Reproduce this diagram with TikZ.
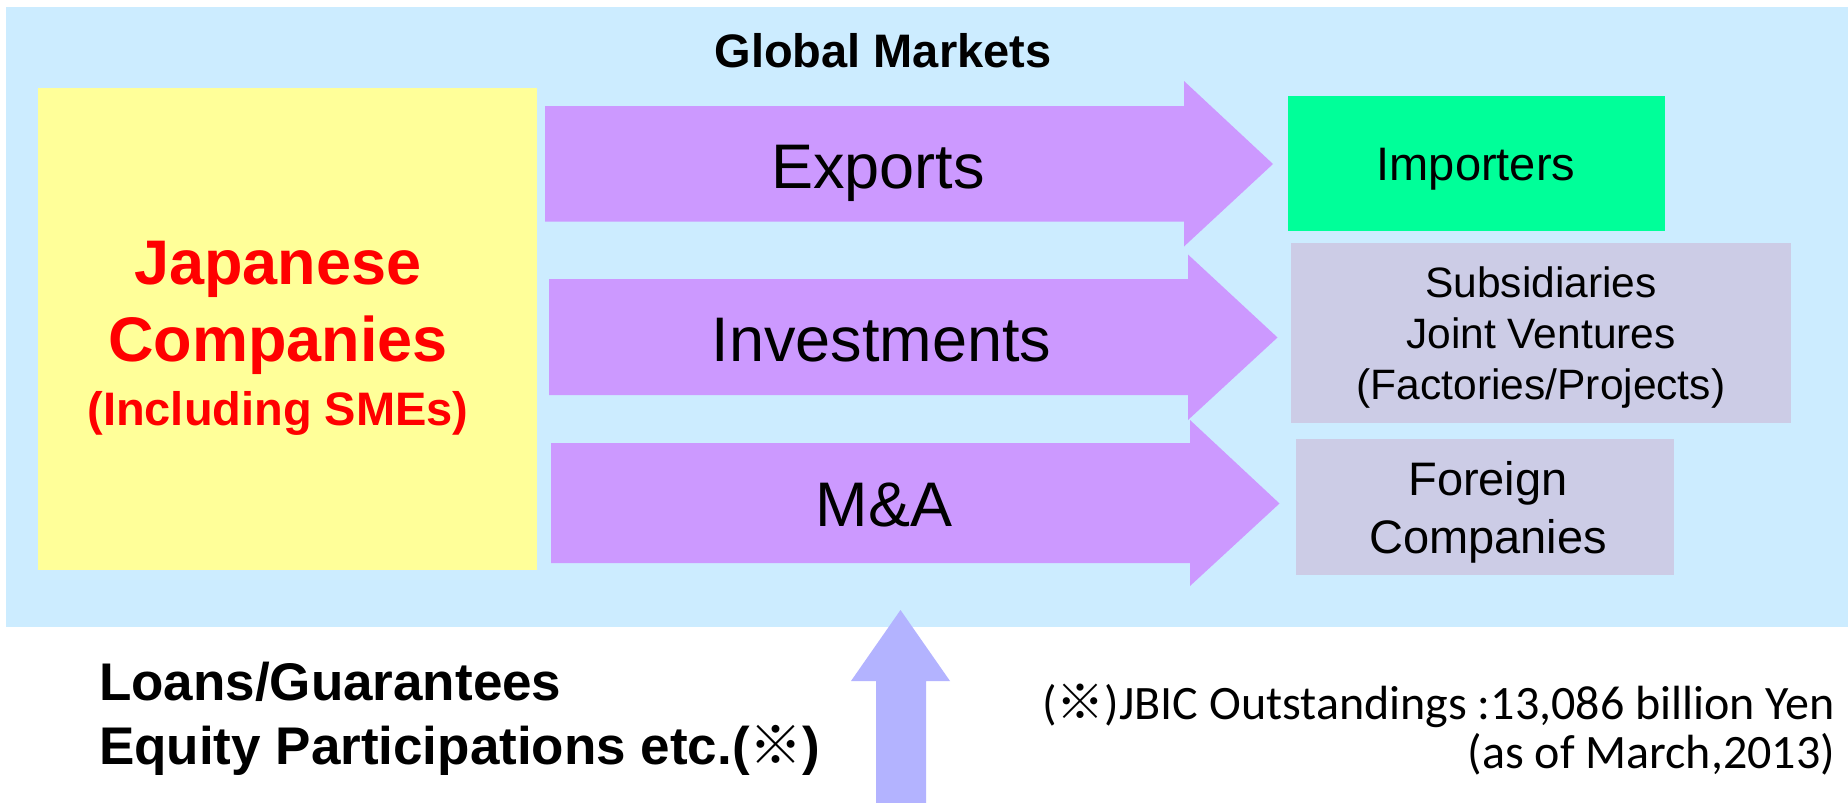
\documentclass[tikz,border=0pt]{standalone}
\usepackage{fontspec}
\setmainfont{Liberation Sans}
\newfontfamily\calfont{Carlito}
\newfontfamily\jpfont{Noto Sans CJK JP}
\newcommand{\refmark}{{\jpfont ※}}
\definecolor{bgblue}{HTML}{CCECFF}
\definecolor{boxyellow}{HTML}{FFFF99}
\definecolor{arrowpurple}{HTML}{CC99FF}
\definecolor{impgreen}{HTML}{00FF99}
\definecolor{boxgray}{HTML}{CCCCE6}
\definecolor{uparrow}{HTML}{B3B3FF}
\begin{document}
\begin{tikzpicture}[x=1pt,y=-1pt,
  txt/.style={inner sep=0pt,outer sep=0pt,anchor=base},
  bigarrow/.style={fill=arrowpurple,draw=none},
  boxfill/.style={draw=none,inner sep=0pt,outer sep=0pt}]
\useasboundingbox (0,0) rectangle (1848,803);
\fill[white] (0,0) rectangle (1848,803);
% background region
\fill[bgblue] (6,7) rectangle (1848,627);
\node[txt,font=\bfseries\fontsize{47}{50}\selectfont] (gm) at (883,67.5) {Global Markets};
% left box
\node[boxfill,fill=boxyellow,minimum width=499pt,minimum height=482pt] (jc) at (287.5,329) {};
\node[txt,align=center,text=red,font=\bfseries\fontsize{63}{77}\selectfont] (jct) at (278,425)
  {Japanese\\Companies\\[-13pt]{\fontsize{47}{50}\selectfont(Including SMEs)}};
% block arrows
\fill[bigarrow] (545,106) -- (1184,106) -- (1184,81) -- (1273,164) -- (1184,246.5) -- (1184,221.5) -- (545,221.5) -- cycle;
\fill[bigarrow] (549,279) -- (1188,279) -- (1188,254.5) -- (1277.5,337.5) -- (1188,420) -- (1188,395) -- (549,395) -- cycle;
\fill[bigarrow] (551,443) -- (1190,443) -- (1190,420) -- (1279.5,503.5) -- (1190,586) -- (1190,563) -- (551,563) -- cycle;
\node[txt,font=\fontsize{63}{70}\selectfont] (ex) at (878,188.5) {Exports};
\node[txt,font=\fontsize{63}{70}\selectfont] (inv) at (881.5,361.8) {Investments};
\node[txt,font=\fontsize{63}{70}\selectfont] (ma) at (884,526) {M\&A};
% right boxes
\node[boxfill,fill=impgreen,minimum width=377pt,minimum height=135pt] (imp) at (1476.5,163.3) {};
\node[txt,font=\fontsize{47}{50}\selectfont] (impt) at (1476,180) {Importers};
\node[boxfill,fill=boxgray,minimum width=500.5pt,minimum height=180pt] (sub) at (1540.75,333) {};
\node[txt,align=center,font=\fontsize{42.5}{51}\selectfont] (subt) at (1541,399)
  {Subsidiaries\\Joint Ventures\\(Factories/Projects)};
\node[boxfill,fill=boxgray,minimum width=377.5pt,minimum height=135.5pt] (fc) at (1484.75,506.75) {};
\node[txt,align=center,font=\fontsize{47}{57.5}\selectfont] (fct) at (1488,553)
  {Foreign\\Companies};
% upward arrow
\fill[uparrow] (876,803) -- (876,681) -- (851,681) -- (900.5,610) -- (950,681) -- (926,681) -- (926,803) -- cycle;
% bottom texts
\node[txt,anchor=base west,align=left,font=\bfseries\fontsize{53}{64}\selectfont] (loans) at (99,764)
  {Loans/Guarantees\\Equity Participations etc.(\refmark)};
\node[txt,anchor=base east,align=right,font=\calfont\fontsize{48}{49}\selectfont] (note) at (1835,768)
  {(\refmark)JBIC Outstandings :13,086 billion Yen\\(as of March,2013)};
\end{tikzpicture}
\end{document}
